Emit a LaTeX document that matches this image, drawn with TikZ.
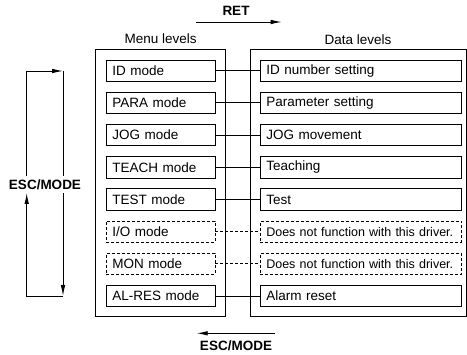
\documentclass[tikz,border=0pt]{standalone}
\usepackage{fontspec}
\setmainfont{Liberation Sans}
\usetikzlibrary{positioning,arrows.meta}

\newcommand{\boxfont}{\fontsize{13.5}{16}\selectfont}

\tikzset{
  levelbox/.style={draw, line width=0.8pt},
  modebox/.style={draw, line width=0.8pt, minimum height=21.3pt, inner xsep=6pt, inner ysep=0pt, align=left},
  menubox/.style={modebox, text width=96.7pt},
  databox/.style={modebox, text width=189pt},
  solid row/.style={solid},
  dashed row/.style={dash pattern=on 3pt off 2pt},
  solid data/.style={solid},
  dashed data/.style={dash pattern=on 3pt off 2pt, font=\fontsize{12.5}{15}\selectfont},
  keylabel/.style={font=\boxfont\bfseries},
  keyarrow/.style={line width=0.9pt, -{Latex[length=11pt,width=4.5pt]}},
  link/.style={line width=0.8pt}
}

\begin{document}
\begin{tikzpicture}[x=1pt, y=-1pt, font=\boxfont]
		\useasboundingbox (0,0) rectangle (467,355);
		% the two level frames
		\draw [levelbox] (95.7,49.3) rectangle (225.7,316.7);
		\draw [levelbox] (250,49.3) rectangle (466,316.7);
		\node (menutitle) at (160.7,39) {Menu levels};
		\node (datatitle) at (358,40) {Data levels};
		% modes and their data levels
		\foreach \i/\mname/\dname/\ls in {
				1/ID mode/ID number setting/solid,
				2/PARA mode/Parameter setting/solid,
				3/JOG mode/JOG movement/solid,
				4/TEACH mode/Teaching/solid,
				5/TEST mode/Test/solid,
				6/I\slash O mode/Does not function with this driver./dashed,
				7/MON mode/Does not function with this driver./dashed,
				8/AL-RES mode/Alarm reset/solid} {
			\node [menubox, \ls\space row] (m\i) at (160.7,{70.7+(\i-1)*32.2}) {\mname};
			\node [databox, \ls\space data] (d\i) at (360.8,{70.7+(\i-1)*32.2}) {\dname};
			\draw [link, \ls\space row] (m\i.east) -- (d\i.west);
		}
		% RET on top
		\node [keylabel] (ret) at (236,11) {RET};
		\coordinate (retA) at (196,22);
		\coordinate (retB) at (281.7,22);
		\draw [keyarrow] (retA) -- (retB);
		% ESC/MODE at the bottom
		\node [keylabel] (escB) at (236,346) {ESC/MODE};
		\coordinate (escA1) at (275,333.3);
		\coordinate (escA2) at (196.7,333.3);
		\draw [keyarrow] (escA1) -- (escA2);
		% ESC/MODE loop on the left
		\node [keylabel] (escL) at (45,185) {ESC/MODE};
		\coordinate (lt) at (26.7,71);
		\coordinate (rt) at (63,71);
		\coordinate (lb) at (26.7,296);
		\coordinate (rb) at (63,296);
		\draw [keyarrow] (26.7,176) -- (lt) -- (rt);
		\draw [line width=0.9pt] (rt) -- (63,176);
		\draw [keyarrow] (63,193) -- (rb);
		\draw [keyarrow] (rb) -- (lb) -- (26.7,193);
	\end{tikzpicture}
\end{document}
